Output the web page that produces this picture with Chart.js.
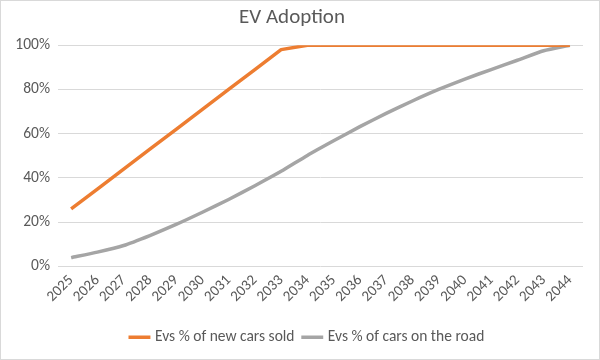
<!DOCTYPE html>
<html>
<head>
<meta charset="utf-8">
<script src="https://cdn.jsdelivr.net/npm/chart.js@4"></script>
<style>
html,body{margin:0;padding:0;background:#fff;}
#wrap{position:relative;width:600px;height:360px;box-sizing:border-box;border:1px solid #d9d9d9;}
canvas{display:block;}
</style>
</head>
<body>
<div id="wrap"><canvas id="c" width="598" height="358"></canvas></div>
<script>
const years = ["2025","2026","2027","2028","2029","2030","2031","2032","2033","2034","2035","2036","2037","2038","2039","2040","2041","2042","2043","2044"];
const newCarsSold = [0.26,0.35,0.44,0.53,0.62,0.71,0.80,0.89,0.98,1.00,1.00,1.00,1.00,1.00,1.00,1.00,1.00,1.00,1.00,1.00];
const carsOnRoad = [0.04,0.065,0.095,0.14,0.19,0.245,0.303,0.365,0.43,0.502,0.568,0.632,0.692,0.748,0.80,0.847,0.89,0.932,0.975,1.00];
const yTicks = [0,0.2,0.4,0.6,0.8,1.0];
const seriesNames = ["Evs % of new cars sold","Evs % of cars on the road"];
const titleText = "EV Adoption";

const FONT = "Calibri, Carlito, Lato, 'Liberation Sans', sans-serif";
const TXT = "#595959";

const legendShift = {
  id: 'legendShift',
  afterLayout(chart) {
    const lg = chart.legend;
    if (lg) { lg.left += 16; lg.right += 16; }
  }
};

new Chart(document.getElementById('c'), {
  type: 'line',
  data: {
    labels: years,
    datasets: [
      {label: seriesNames[0], data: newCarsSold, borderColor: '#ED7D31', backgroundColor: '#ED7D31', borderWidth: 3.5, pointRadius: 0, tension: 0, borderCapStyle: 'butt', borderJoinStyle: 'round'},
      {label: seriesNames[1], data: carsOnRoad, borderColor: '#A5A5A5', backgroundColor: '#A5A5A5', borderWidth: 3.5, pointRadius: 0, tension: 0.2, borderCapStyle: 'butt', borderJoinStyle: 'round'}
    ]
  },
  plugins: [legendShift],
  options: {
    responsive: false,
    animation: false,
    layout: {padding: {left: 0, right: 16, top: 4, bottom: 4}},
    plugins: {
      title: {display: true, text: titleText, color: TXT, font: {family: FONT, size: 21, weight: 'normal'}, padding: {top: 0, bottom: 15}},
      legend: {
        position: 'bottom',
        labels: {color: TXT, font: {family: FONT, size: 15.5}, usePointStyle: true, pointStyle: 'line', boxWidth: 17, padding: 10}
      },
      tooltip: {enabled: false}
    },
    scales: {
      x: {
        offset: true,
        grid: {display: false, drawTicks: false},
        border: {display: false},
        ticks: {color: TXT, font: {family: FONT, size: 15}, minRotation: 45, maxRotation: 45, autoSkip: false, padding: 5},
        afterFit: s => { s.height = 53; }
      },
      y: {
        min: 0, max: 1,
        afterBuildTicks: s => { s.ticks = yTicks.map(v => ({value: v})); },
        grid: {color: '#D9D9D9', lineWidth: 1, drawTicks: false},
        border: {display: false},
        ticks: {color: TXT, font: {family: FONT, size: 15.5}, padding: 8, callback: v => Math.round(v*100) + '%'},
        afterFit: s => { s.width = 57; }
      }
    }
  }
});
</script>
</body>
</html>
